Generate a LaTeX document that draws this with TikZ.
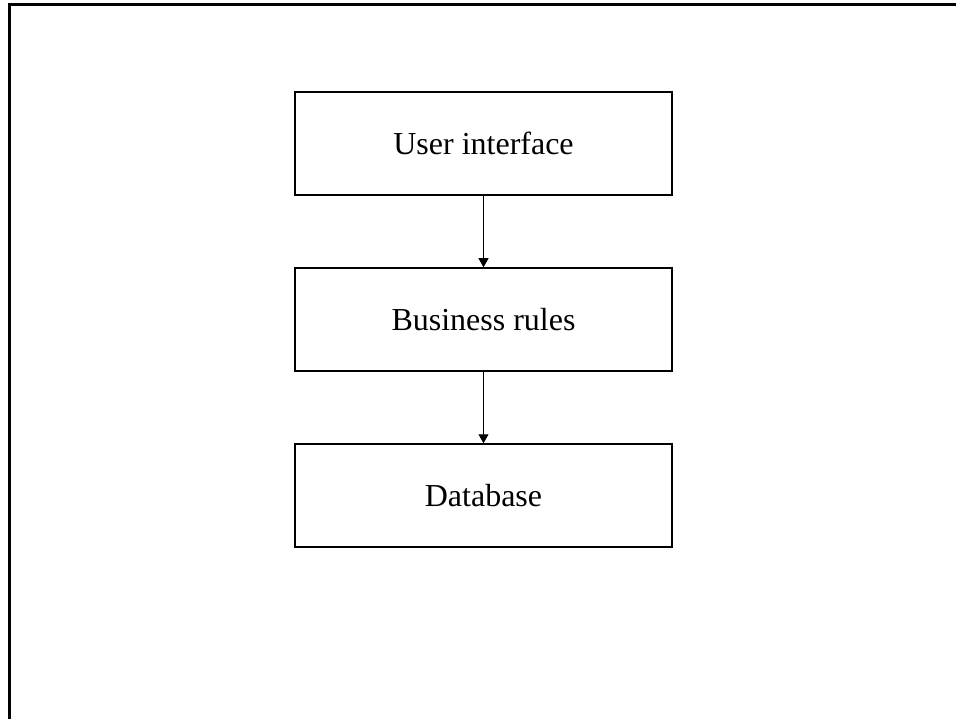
\documentclass[tikz,border=0pt]{standalone}
\usepackage{fontspec}
\setmainfont{Liberation Serif}
\usetikzlibrary{arrows.meta}
\begin{document}
\begin{tikzpicture}[x=1pt,y=-1pt,
  layer/.style={draw=black, line width=1.5pt, minimum width=377pt, minimum height=103pt, inner sep=0pt, font=\fontsize{32}{38}\selectfont},
  link/.style={draw=black, line width=1pt, -{Triangle[width=10pt,length=9pt]}}]
\useasboundingbox (0,0) rectangle (956,719);
\fill[white] (0,0) rectangle (956,719);
\draw[line width=3pt] (9,725) -- (9,5) -- (962,5);
\node[layer] (ui) at (483.5,143.5) {User interface};
\node[layer] (br) at (483.5,319.5) {Business rules};
\node[layer] (db) at (483.5,495.5) {Database};
\draw[link] (ui) -- (br);
\draw[link] (br) -- (db);
\end{tikzpicture}
\end{document}
